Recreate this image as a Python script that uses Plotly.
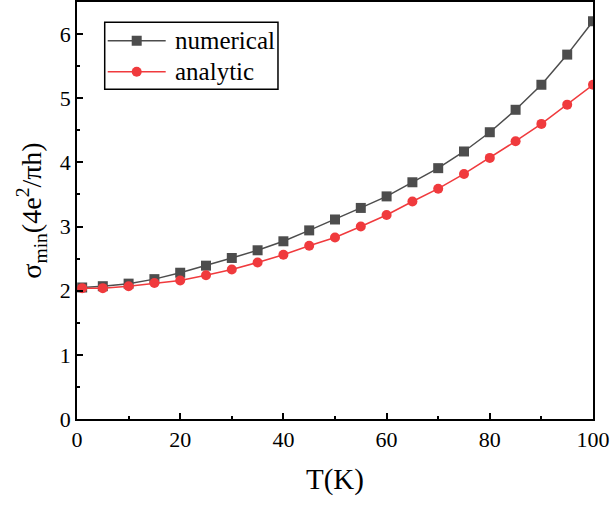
import plotly.graph_objects as go

# Temperature grid (K)
T = [1, 5, 10, 15, 20, 25, 30, 35, 40, 45, 50, 55, 60, 65, 70, 75, 80, 85, 90, 95, 100]

# Minimum conductivity in units of 4e^2/(pi h)
sigma_numerical = [2.05, 2.07, 2.11, 2.18, 2.28, 2.39, 2.51, 2.63, 2.77, 2.94, 3.11,
                   3.29, 3.47, 3.69, 3.91, 4.17, 4.47, 4.82, 5.21, 5.68, 6.20]
sigma_analytic = [2.04, 2.04, 2.07, 2.12, 2.16, 2.24, 2.33, 2.44, 2.56, 2.70, 2.83,
                  3.00, 3.18, 3.39, 3.59, 3.82, 4.07, 4.33, 4.60, 4.90, 5.21]

series_names = ["numerical", "analytic"]

FONT = "Liberation Serif"
GRAY = "#4d4d4d"
RED = "#f03a3d"

fig = go.Figure()
fig.add_trace(go.Scatter(
    x=T, y=sigma_numerical, name=series_names[0], mode="lines+markers",
    line=dict(color=GRAY, width=1.5),
    marker=dict(symbol="square", size=10, color=GRAY),
))
fig.add_trace(go.Scatter(
    x=T, y=sigma_analytic, name=series_names[1], mode="lines+markers",
    line=dict(color=RED, width=1.5),
    marker=dict(symbol="circle", size=10, color=RED),
))

axis_common = dict(
    showline=True, linecolor="black", linewidth=1.5, mirror=True,
    ticks="inside", ticklen=6, tickwidth=1.5, tickcolor="black",
    showgrid=False, zeroline=False,
    tickfont=dict(family=FONT, size=22, color="black"),
)

fig.update_xaxes(
    range=[0, 100], tick0=0, dtick=20,
    minor=dict(ticks="inside", ticklen=3.5, tickwidth=1.5, tickcolor="black", dtick=10),
    title=dict(text="T(K)", font=dict(family=FONT, size=29, color="black"), standoff=18),
    **axis_common,
)
fig.update_yaxes(
    range=[0, 6.5], tick0=0, dtick=1,
    minor=dict(ticks="inside", ticklen=3.5, tickwidth=1.5, tickcolor="black", dtick=0.5),
    title=dict(text="σ<sub>min</sub>(4e<sup>2</sup>/πh)",
               font=dict(family=FONT, size=28, color="black"), standoff=10),
    **axis_common,
)

# Framed legend box in the upper-left corner (paper coordinates)
box = dict(x0=0.0537, x1=0.3895, y0=0.7905, y1=0.9513)
rows_y = [0.9071, 0.8327]
line_x = (0.0595, 0.1719)
marker_x = 0.1157
text_x = 0.1855

shapes = [dict(type="rect", xref="paper", yref="paper", fillcolor="white",
               line=dict(color="black", width=1.5), layer="above", **box)]
annotations = []
for name, color, kind, yy in zip(series_names, [GRAY, RED], ["rect", "circle"], rows_y):
    shapes.append(dict(type="line", xref="paper", yref="paper", layer="above",
                       x0=line_x[0], x1=line_x[1], y0=yy, y1=yy,
                       line=dict(color=color, width=1.5)))
    shapes.append(dict(type=kind, xref="paper", yref="paper", layer="above",
                       xsizemode="pixel", ysizemode="pixel",
                       xanchor=marker_x, yanchor=yy, x0=-5, x1=5, y0=-5, y1=5,
                       fillcolor=color, line=dict(color=color, width=0)))
    annotations.append(dict(text=name, xref="paper", yref="paper", x=text_x, y=yy,
                            xanchor="left", yanchor="middle", showarrow=False,
                            font=dict(family=FONT, size=25, color="black")))

fig.update_layout(
    width=613, height=506,
    margin=dict(l=77, r=20, t=2, b=87, autoexpand=False),
    paper_bgcolor="white", plot_bgcolor="white",
    font=dict(family=FONT, color="black"),
    showlegend=False,
    shapes=shapes,
    annotations=annotations,
)

fig.write_html("out.html")
